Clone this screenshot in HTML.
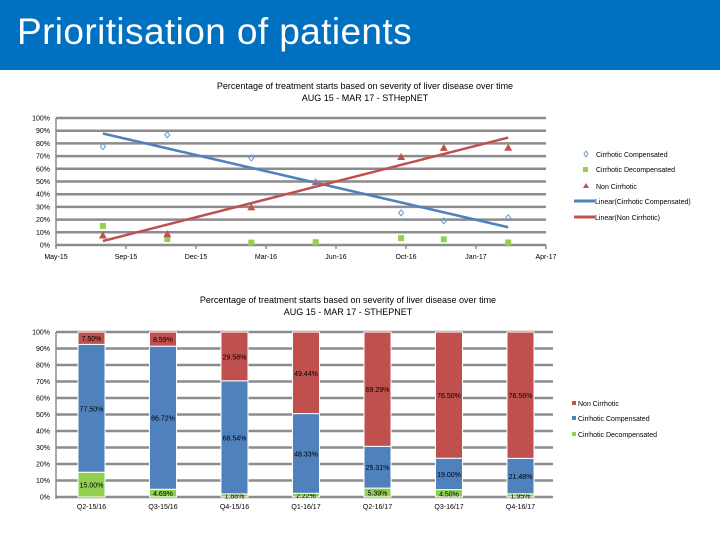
<!DOCTYPE html>
<html><head><meta charset="utf-8"><style>
body{margin:0;width:720px;height:540px;background:#fff;overflow:hidden;font-family:"Liberation Sans",sans-serif}
#hdr{position:absolute;left:0;top:0;width:720px;height:70px;background:#0070c0}
#hdr span{position:absolute;left:17px;top:11px;color:#fff;font-size:37px;letter-spacing:0.4px}
svg{position:absolute;left:0;top:0}
text{font-family:"Liberation Sans",sans-serif}
</style></head><body>
<div id="hdr"><span>Prioritisation of patients</span></div>
<svg id="c" width="720" height="540"></svg>
<script>
const dateTicks=['May-15','Sep-15','Dec-15','Mar-16','Jun-16','Oct-16','Jan-17','Apr-17'];
const pctTicks=['0%','10%','20%','30%','40%','50%','60%','70%','80%','90%','100%'];
const pointDays=[67,159,279,371,493,554,646];
const quarters=['Q2-15/16','Q3-15/16','Q4-15/16','Q1-16/17','Q2-16/17','Q3-16/17','Q4-16/17'];
const compensated=[77.50,86.72,68.54,48.33,25.31,19.00,21.48];
const decompensated=[15.00,4.69,1.88,2.22,5.39,4.50,1.95];
const nonCirrhotic=[7.50,8.59,29.58,49.44,69.29,76.50,76.56];

const S=document.getElementById('c');const NS='http://www.w3.org/2000/svg';
function mk(t,a,p){const e=document.createElementNS(NS,t);for(const k in a)e.setAttribute(k,a[k]);(p||S).appendChild(e);return e;}
function txt(x,y,s,sz,anc,p){const e=mk('text',{x:x,y:y,'font-size':sz,'text-anchor':anc||'middle',fill:'#000'},p);e.textContent=s;return e;}

// ---- Top chart ----
const tx=d=>56+d*0.7, ty=v=>245-v*1.27;
const g1=mk('g',{});


let t=txt(365,89,'Percentage of treatment starts based on severity of liver disease over time',9,'middle',g1);

t=txt(365,101,'AUG 15 - MAR 17 - STHepNET',9,'middle',g1);

pctTicks.forEach((l,i)=>{const v=i*10;
 const ln=mk('line',{x1:56,x2:546,y1:ty(v),y2:ty(v),stroke:'#8c8c8c','stroke-width':2.5},g1);
 
 const e=txt(50,ty(v)+2.5,l,7,'end',g1);
 });
mk('line',{x1:56,x2:56,y1:ty(100),y2:247,stroke:'#8c8c8c','stroke-width':1.5},g1);
dateTicks.forEach((l,i)=>{const x=tx(i*100);
 mk('line',{x1:x,x2:x,y1:245,y2:249,stroke:'#8c8c8c','stroke-width':1.5},g1);
 const e=txt(x,259,l,7,'middle',g1);
 });
function reg(ys){const n=ys.length;let sx=0,sy=0,sxx=0,sxy=0;for(let i=0;i<n;i++){const x=pointDays[i];sx+=x;sy+=ys[i];sxx+=x*x;sxy+=x*ys[i];}
 const b=(n*sxy-sx*sy)/(n*sxx-sx*sx);return [b,(sy-b*sx)/n];}
[[compensated,'#4f81bd','trend-compensated'],[nonCirrhotic,'#c0504d','trend-non-cirrhotic']].forEach(([ys,c,nm])=>{
 const [b,a]=reg(ys);const d0=pointDays[0],d1=pointDays[pointDays.length-1];
 const l=mk('line',{x1:tx(d0),y1:ty(a+b*d0),x2:tx(d1),y2:ty(a+b*d1),stroke:c,'stroke-width':2.5},g1);
 });
pointDays.forEach((d,i)=>{const x=tx(d);
 let e=mk('rect',{x:x-3,y:ty(decompensated[i])-3,width:6,height:6,fill:'#92d050'},g1);
 
 const y=ty(nonCirrhotic[i]);
 e=mk('polygon',{points:`${x},${y-4} ${x+4},${y+3} ${x-4},${y+3}`,fill:'#c0504d'},g1);
 
 const yc=ty(compensated[i]);
 e=mk('polygon',{points:`${x},${yc-3} ${x+2.5},${yc} ${x},${yc+3} ${x-2.5},${yc}`,fill:'none',stroke:'#6a9bd1','stroke-width':1},g1);
 });
// top legend
const lg1=mk('g',{},g1);

mk('polygon',{points:'586,151 588,154 586,157 584,154',fill:'none',stroke:'#6a9bd1'},lg1);
txt(596,157,'Cirrhotic Compensated',7,'start',lg1);
mk('rect',{x:583,y:167,width:5,height:5,fill:'#92d050'},lg1);
txt(596,172,'Cirrhotic Decompensated',7,'start',lg1);
mk('polygon',{points:'586,183 589,188 583,188',fill:'#c0504d'},lg1);
txt(596,189,'Non Cirrhotic',7,'start',lg1);
mk('line',{x1:574,x2:595,y1:201,y2:201,stroke:'#4f81bd','stroke-width':3},lg1);
txt(595,204,'Linear(Cirrhotic Compensated)',7,'start',lg1);
mk('line',{x1:574,x2:595,y1:217,y2:217,stroke:'#c0504d','stroke-width':3},lg1);
txt(595,220,'Linear(Non Cirrhotic)',7,'start',lg1);

// ---- Bottom chart ----
const by=v=>497-v*1.65, bx=i=>91.5+i*71.5, bw=27;
const g2=mk('g',{});


t=txt(348,303,'Percentage of treatment starts based on severity of liver disease over time',9,'middle',g2);

t=txt(348,315,'AUG 15 - MAR 17 - STHEPNET',9,'middle',g2);

pctTicks.forEach((l,i)=>{const v=i*10;
 const ln=mk('line',{x1:56,x2:553,y1:by(v),y2:by(v),stroke:'#8c8c8c','stroke-width':2.5},g2);
 
 const e=txt(50,by(v)+2.5,l,7,'end',g2);
 });
mk('line',{x1:56,x2:56,y1:by(100),y2:499,stroke:'#8c8c8c','stroke-width':1.5},g2);
quarters.forEach((q,i)=>{const cx=bx(i);
 const e=txt(cx,509,q,7,'middle',g2);
 
 const segs=[[decompensated[i],'#92d050','bar-decompensated'],[compensated[i],'#4f81bd','bar-compensated'],[nonCirrhotic[i],'#c0504d','bar-non-cirrhotic']];
 let base=0;
 segs.forEach(([v,c,nm])=>{const y0=by(base),y1=by(base+v);
  const r=mk('rect',{x:cx-bw/2,y:y1,width:bw,height:y0-y1,fill:c,stroke:'#fff','stroke-width':1},g2);
  
  const lb=txt(cx,(y0+y1)/2+3,v.toFixed(2)+'%',7,'middle',g2);
  
  base+=v;});});
const lg2=mk('g',{},g2);

mk('rect',{x:572,y:401,width:4,height:4,fill:'#c0504d'},lg2);
txt(578,406,'Non Cirrhotic',7,'start',lg2);
mk('rect',{x:572,y:416,width:4,height:4,fill:'#4f81bd'},lg2);
txt(578,421,'Cirrhotic Compensated',7,'start',lg2);
mk('rect',{x:572,y:432,width:4,height:4,fill:'#92d050'},lg2);
txt(578,437,'Cirrhotic Decompensated',7,'start',lg2);
</script>
</body></html>
